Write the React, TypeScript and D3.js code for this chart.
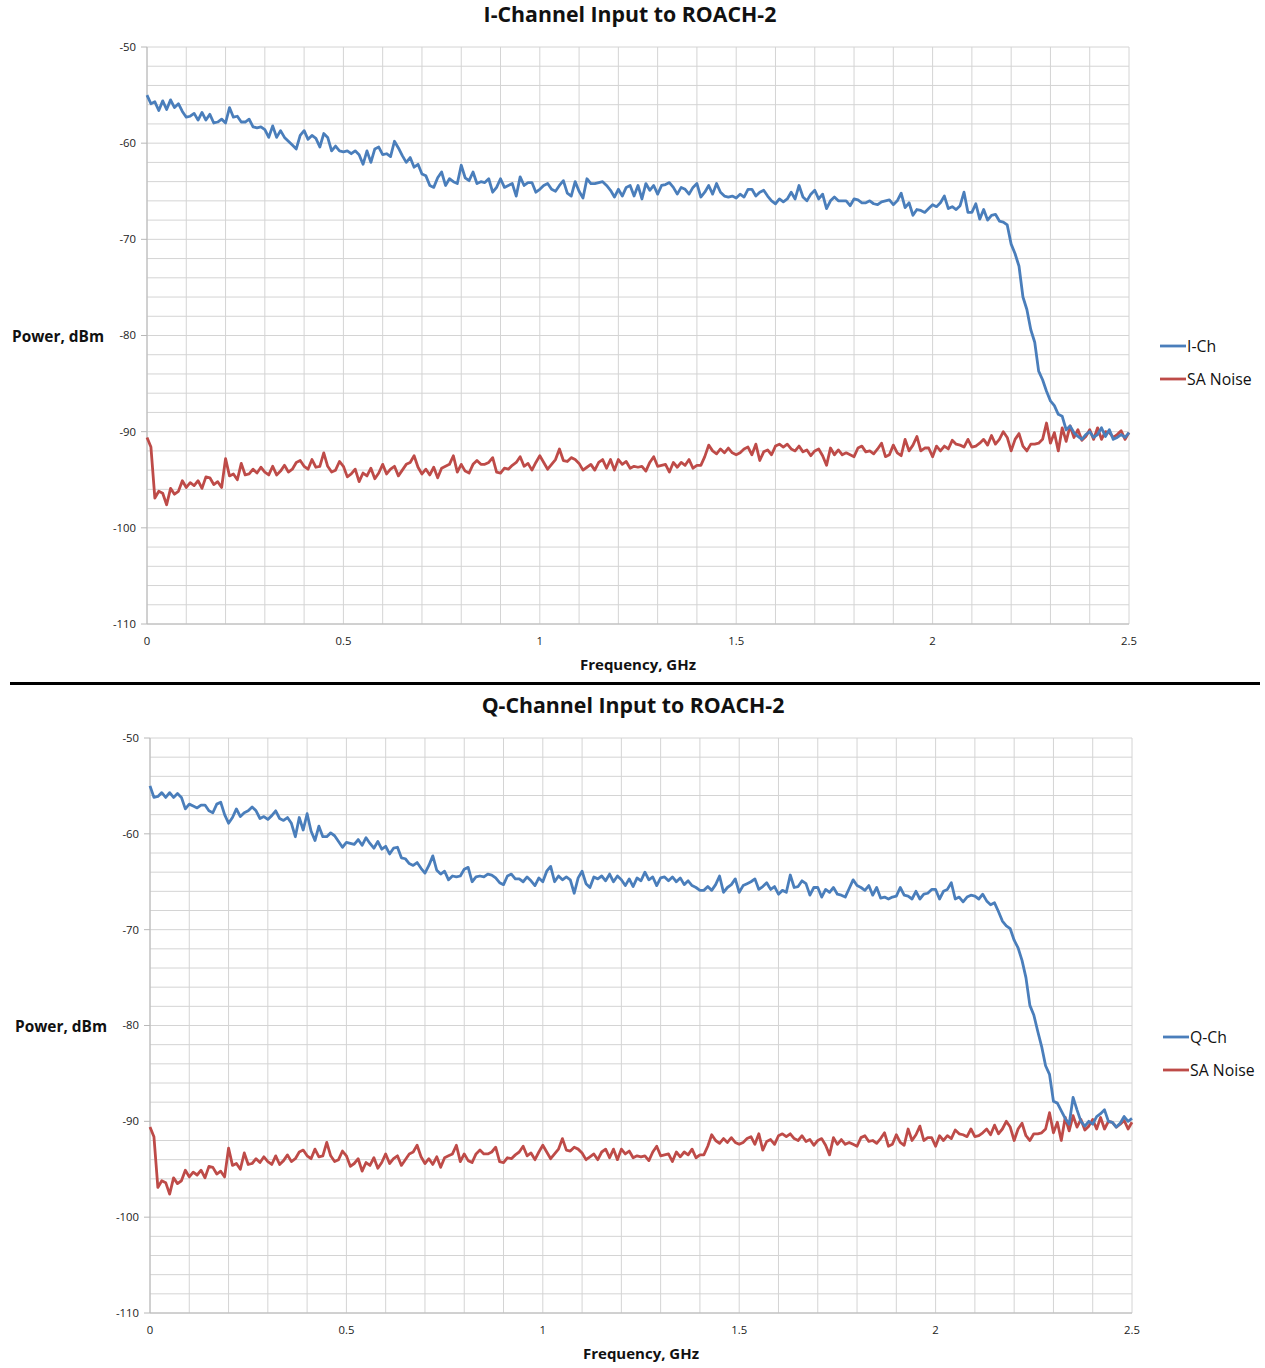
import React from 'react';
import * as d3 from 'd3';

// Frequency axis (GHz), one sample every 0.01 GHz from 0 to 2.5
const FREQ_GHZ: number[] = d3.range(0, 251).map((i) => +(i / 100).toFixed(2));

const X_TICKS = [0, 0.5, 1, 1.5, 2, 2.5];
const Y_TICKS = [-50, -60, -70, -80, -90, -100, -110];

// I-Channel power, dBm
const I_CH: number[] = [
  -55.0, -55.9, -55.7, -56.6, -55.6, -56.5, -55.5, -56.3, -55.9, -56.7,
  -57.3, -57.2, -56.9, -57.6, -56.8, -57.6, -57.0, -57.9, -57.8, -57.5,
  -57.9, -56.3, -57.3, -57.2, -57.8, -57.8, -57.5, -58.3, -58.4, -58.3,
  -58.6, -59.4, -58.2, -59.4, -58.7, -59.4, -59.8, -60.2, -60.6, -59.2,
  -58.7, -59.6, -59.2, -59.5, -60.4, -59.0, -59.4, -60.8, -60.3, -60.8,
  -60.9, -60.8, -61.1, -60.8, -61.2, -62.2, -60.8, -62.0, -60.6, -60.4,
  -61.2, -61.1, -61.4, -59.8, -60.5, -61.3, -62.0, -61.5, -62.5, -62.2,
  -63.2, -63.4, -64.4, -64.6, -63.6, -63.0, -64.4, -63.7, -64.0, -64.2,
  -62.3, -63.6, -63.9, -63.0, -64.2, -64.0, -64.1, -63.7, -65.1, -64.6,
  -63.7, -64.6, -64.4, -64.2, -65.5, -63.5, -64.4, -64.1, -64.1, -65.1,
  -64.8, -64.4, -64.2, -64.8, -65.0, -64.4, -63.9, -65.2, -65.5, -64.0,
  -65.0, -65.7, -63.7, -64.2, -64.2, -64.1, -64.0, -64.4, -64.9, -65.6,
  -64.8, -65.5, -64.6, -64.4, -65.5, -64.4, -65.8, -64.2, -64.9, -64.4,
  -65.3, -64.4, -64.3, -64.1, -64.6, -65.3, -64.6, -64.8, -65.3, -64.6,
  -64.2, -65.6, -65.1, -64.4, -65.3, -64.2, -65.1, -65.5, -65.6, -65.5,
  -65.7, -65.3, -65.6, -64.8, -64.8, -65.5, -65.1, -64.9, -65.5, -66.0,
  -66.3, -65.8, -66.1, -65.8, -65.1, -65.8, -64.4, -65.6, -66.0, -65.3,
  -64.9, -65.8, -65.3, -66.8, -66.0, -65.6, -66.0, -66.0, -66.0, -66.5,
  -65.8, -65.9, -66.2, -66.2, -66.0, -66.3, -66.4, -66.1, -66.0, -65.9,
  -66.4, -66.0, -65.2, -66.7, -66.2, -67.5, -66.9, -67.0, -67.2, -66.8,
  -66.4, -66.6, -66.2, -65.5, -66.8, -66.6, -66.9, -66.5, -65.1, -67.2,
  -67.2, -66.3, -67.9, -66.9, -68.0, -67.5, -67.4, -68.1, -68.2, -68.5,
  -70.5, -71.5, -72.8, -76.0, -77.3, -79.4, -80.7, -83.7, -84.6, -85.8,
  -86.8, -87.3, -88.2, -88.4, -89.8, -89.4, -90.1, -90.5, -90.8, -90.3,
  -90.0, -90.6, -90.3, -89.6, -90.5, -89.8, -90.8, -90.6, -90.3, -90.6, -90.1,
];

// Q-Channel power, dBm
const Q_CH: number[] = [
  -55.0, -56.2, -56.1, -55.7, -56.2, -55.7, -56.2, -55.8, -56.2, -57.4,
  -56.9, -57.1, -57.3, -57.0, -57.0, -57.6, -57.8, -56.9, -56.7, -58.0,
  -58.9, -58.3, -57.4, -58.2, -57.8, -57.6, -57.2, -57.6, -58.4, -58.2,
  -58.5, -58.1, -57.6, -58.4, -58.6, -58.3, -58.9, -60.3, -58.3, -59.6,
  -57.9, -59.7, -60.7, -59.2, -60.3, -60.3, -59.9, -60.2, -60.8, -61.4,
  -60.9, -61.0, -61.1, -60.6, -61.2, -60.4, -61.0, -61.5, -60.8, -61.6,
  -61.3, -62.1, -61.5, -61.4, -62.5, -62.6, -63.1, -63.3, -63.0, -63.6,
  -64.1, -63.3, -62.3, -63.8, -64.2, -63.9, -64.8, -64.4, -64.5, -64.4,
  -63.7, -63.5, -65.0, -64.5, -64.4, -64.5, -64.2, -64.3, -64.6, -65.1,
  -65.3, -64.4, -64.2, -64.7, -64.7, -65.0, -64.5, -64.9, -65.4, -64.6,
  -65.0, -63.9, -63.4, -65.0, -64.4, -64.8, -64.5, -64.8, -66.2, -64.6,
  -63.9, -65.2, -65.6, -64.5, -64.7, -64.4, -64.9, -64.2, -65.0, -64.4,
  -64.8, -65.4, -64.7, -65.5, -64.6, -64.9, -64.0, -64.8, -64.5, -65.4,
  -64.6, -64.5, -64.9, -64.5, -65.0, -64.6, -65.3, -64.9, -65.4, -65.6,
  -65.9, -65.9, -65.5, -65.9, -65.3, -64.4, -66.1, -65.6, -65.3, -64.7,
  -66.1, -65.4, -65.2, -65.0, -64.7, -65.8, -65.5, -65.1, -65.8, -65.5,
  -66.3, -65.9, -66.1, -64.3, -65.6, -65.5, -64.9, -65.2, -66.4, -65.6,
  -65.6, -66.6, -65.8, -66.1, -65.6, -66.3, -66.4, -66.6, -65.7, -64.8,
  -65.4, -65.6, -65.9, -65.4, -66.4, -65.6, -66.7, -66.6, -66.8, -66.6,
  -66.5, -65.6, -66.4, -66.5, -66.8, -66.0, -66.8, -66.3, -66.2, -65.8,
  -65.8, -66.8, -66.0, -65.8, -65.1, -66.8, -66.6, -67.1, -66.6, -66.4,
  -66.5, -66.8, -66.3, -67.0, -67.4, -67.2, -68.1, -69.1, -69.6, -69.9,
  -71.1, -71.9, -73.2, -75.0, -77.9, -78.9, -80.6, -82.2, -84.2, -85.1,
  -87.9, -88.1, -88.9, -89.7, -90.3, -87.5, -88.8, -90.0, -90.5, -90.0,
  -90.3, -89.5, -89.2, -88.8, -90.0, -90.1, -90.6, -90.2, -89.5, -90.0, -89.7,
];

// Spectrum analyser noise floor, dBm (same trace on both charts)
const SA_NOISE: number[] = [
  -90.6, -91.6, -96.9, -96.2, -96.4, -97.6, -95.9, -96.5, -96.2, -95.1,
  -95.8, -95.3, -95.6, -95.1, -95.9, -94.7, -94.8, -95.5, -95.2, -95.8,
  -92.8, -94.6, -94.4, -95.0, -93.3, -94.5, -94.4, -93.9, -94.3, -93.7,
  -94.2, -94.5, -93.6, -94.5, -94.1, -93.5, -94.2, -93.9, -93.2, -93.0,
  -93.6, -93.9, -92.9, -93.7, -93.6, -92.2, -93.6, -94.2, -94.0, -93.1,
  -93.6, -94.7, -94.4, -93.9, -95.2, -94.3, -94.6, -93.8, -94.9, -94.3,
  -93.4, -94.4, -93.9, -93.6, -94.6, -94.0, -93.4, -93.2, -92.5, -93.7,
  -94.4, -93.9, -94.5, -93.7, -94.8, -93.8, -93.6, -93.4, -92.5, -94.2,
  -93.4, -94.1, -94.3, -93.4, -93.0, -93.4, -93.4, -93.2, -92.7, -94.2,
  -94.3, -93.8, -93.9, -93.5, -93.2, -92.6, -93.6, -93.3, -94.0, -93.2,
  -92.5, -93.2, -93.9, -93.4, -92.9, -91.8, -93.0, -93.1, -92.7, -92.9,
  -93.3, -94.0, -93.7, -93.4, -94.0, -93.2, -92.9, -93.8, -92.9, -94.0,
  -92.9, -93.4, -93.1, -93.8, -93.6, -93.7, -93.6, -94.1, -93.2, -92.6,
  -93.6, -93.5, -93.4, -94.2, -93.2, -93.7, -93.2, -93.5, -92.9, -93.8,
  -93.5, -93.5, -92.6, -91.4, -92.0, -92.3, -91.8, -92.2, -91.7, -92.2,
  -92.4, -92.2, -91.8, -91.6, -92.4, -91.3, -93.0, -92.1, -91.9, -92.4,
  -91.5, -91.3, -91.6, -91.3, -91.8, -92.0, -91.5, -92.1, -91.9, -92.5,
  -92.0, -91.8, -92.5, -93.5, -91.7, -92.4, -91.9, -92.4, -92.2, -92.4,
  -92.6, -91.7, -91.5, -92.1, -92.0, -92.3, -91.8, -91.2, -92.6, -92.4,
  -91.4, -92.2, -92.5, -90.8, -92.0, -91.4, -90.5, -92.0, -91.7, -91.7,
  -92.6, -91.5, -92.0, -91.5, -91.8, -90.9, -91.3, -91.4, -91.6, -90.8,
  -91.6, -91.5, -91.2, -90.8, -91.4, -90.4, -91.3, -90.8, -90.0, -90.6,
  -92.0, -90.8, -90.2, -91.5, -92.0, -91.3, -91.3, -91.2, -90.8, -89.1,
  -91.2, -90.1, -92.0, -89.6, -91.0, -89.4, -90.6, -89.8, -90.9, -90.5,
  -89.8, -90.8, -89.6, -90.8, -90.0, -90.1, -90.6, -90.3, -89.9, -90.8, -90.1,
];

const BLUE = '#4a7ebb';
const RED = '#be4b48';
const GRID = '#d4d4d4';
const AXIS = '#b8b8b8';
const FONT = '"Open Sans", "Noto Sans", sans-serif';

type ChartProps = {
  title: string;
  channelLabel: string;
  channel: number[];
  noise: number[];
  left: number;
  top: number;
  width: number;
  height: number;
};

function Chart({ title, channelLabel, channel, noise, left, top, width, height }: ChartProps) {
  const x = d3.scaleLinear().domain([0, 2.5]).range([left, left + width]);
  const y = d3.scaleLinear().domain([-110, -50]).range([top + height, top]);
  const line = d3
    .line<number>()
    .x((_, i) => x(FREQ_GHZ[i]))
    .y((d) => y(d))
    .curve(d3.curveLinear);

  const vGrid = d3.range(0, 26).map((i) => i / 10);
  const hGrid = d3.range(-110, -49, 2);
  const bottom = top + height;
  const right = left + width;

  return (
    <g>
      <text
        x={left + 483}
        y={top - 25}
        textAnchor="middle"
        fontFamily={FONT}
        fontWeight="bold"
        fontSize={21.3}
        fill="#111"
      >
        {title}
      </text>
      {hGrid.map((v) => (
        <line key={'h' + v} x1={left} x2={right} y1={y(v)} y2={y(v)} stroke={GRID} strokeWidth={1} />
      ))}
      {vGrid.map((v) => (
        <line key={'v' + v} x1={x(v)} x2={x(v)} y1={top} y2={bottom} stroke={GRID} strokeWidth={1} />
      ))}
      <line x1={left} x2={left} y1={top} y2={bottom} stroke={AXIS} strokeWidth={1} />
      <line x1={left} x2={right} y1={bottom} y2={bottom} stroke={AXIS} strokeWidth={1} />
      {Y_TICKS.map((v) => (
        <g key={'yt' + v}>
          <line x1={left - 6} x2={left} y1={y(v)} y2={y(v)} stroke={AXIS} strokeWidth={1} />
          <text
            x={left - 11}
            y={y(v)}
            dy="0.35em"
            textAnchor="end"
            fontFamily={FONT}
            fontSize={11.3}
            fill="#222"
          >
            {v}
          </text>
        </g>
      ))}
      {X_TICKS.map((v) => (
        <text
          key={'xt' + v}
          x={x(v)}
          y={bottom + 21}
          textAnchor="middle"
          fontFamily={FONT}
          fontSize={11.3}
          fill="#222"
        >
          {v}
        </text>
      ))}
      <text
        x={left - 135}
        y={(top + bottom) / 2 + 6}
        fontFamily={FONT}
        fontWeight="bold"
        fontSize={15.4}
        fill="#111"
      >
        Power, dBm
      </text>
      <text
        x={left + 491}
        y={bottom + 46}
        textAnchor="middle"
        fontFamily={FONT}
        fontWeight="bold"
        fontSize={15}
        fill="#111"
      >
        Frequency, GHz
      </text>
      <path d={line(noise) ?? ''} fill="none" stroke={RED} strokeWidth={2.8} strokeLinejoin="round" />
      <path d={line(channel) ?? ''} fill="none" stroke={BLUE} strokeWidth={2.8} strokeLinejoin="round" />
      <g>
        <line x1={right + 31} x2={right + 57} y1={top + 299} y2={top + 299} stroke={BLUE} strokeWidth={2.8} />
        <text x={right + 58} y={top + 299} dy="0.35em" fontFamily={FONT} fontSize={15.8} fill="#111">
          {channelLabel}
        </text>
        <line x1={right + 31} x2={right + 57} y1={top + 332} y2={top + 332} stroke={RED} strokeWidth={2.8} />
        <text x={right + 58} y={top + 332} dy="0.35em" fontFamily={FONT} fontSize={15.8} fill="#111">
          SA Noise
        </text>
      </g>
    </g>
  );
}

export default function App() {
  return (
    <svg
      width={1265}
      height={1368}
      style={{ position: 'absolute', left: 0, top: 0, background: '#fff' }}
    >
      <rect x={0} y={0} width={1265} height={1368} fill="#fff" />
      <Chart
        title="I-Channel Input to ROACH-2"
        channelLabel="I-Ch"
        channel={I_CH}
        noise={SA_NOISE}
        left={147}
        top={47}
        width={982}
        height={577}
      />
      <line x1={10} x2={1260} y1={683.5} y2={683.5} stroke="#000" strokeWidth={3} />
      <Chart
        title="Q-Channel Input to ROACH-2"
        channelLabel="Q-Ch"
        channel={Q_CH}
        noise={SA_NOISE}
        left={150}
        top={738}
        width={982}
        height={575}
      />
    </svg>
  );
}
